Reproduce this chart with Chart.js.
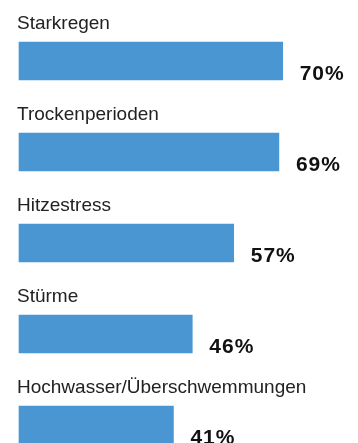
<!DOCTYPE html>
<html lang="de">
<head>
<meta charset="utf-8">
<script src="https://cdn.jsdelivr.net/npm/chart.js@4.4.1/dist/chart.umd.min.js"></script>
<style>
  html, body { margin: 0; padding: 0; background: #fff; }
  #wrap { width: 358px; height: 443px; position: relative; }
</style>
</head>
<body>
<div id="wrap"><canvas id="risks"></canvas></div>
<script>
const categories = ['Starkregen', 'Trockenperioden', 'Hitzestress', 'Stürme', 'Hochwasser/Überschwemmungen']
const shares = [70, 69, 57, 46, 41]
const barColor = '#4a96d2'

// category name above each bar, share in bold to the right of it
const barLabels = {
  id: 'barLabels',
  afterDatasetsDraw(chart) {
    const ctx = chart.ctx
    const meta = chart.getDatasetMeta(0)
    const left = chart.chartArea.left
    ctx.save()
    ctx.textAlign = 'left'
    ctx.textBaseline = 'alphabetic'
    meta.data.forEach((bar, i) => {
      ctx.font = '19px "Liberation Sans", Arial, sans-serif'
      ctx.fillStyle = '#222'
      ctx.letterSpacing = '0px'
      ctx.fillText(categories[i], left - 2, bar.y - 32)

      ctx.font = 'bold 21px "Liberation Sans", Arial, sans-serif'
      ctx.fillStyle = '#111'
      ctx.letterSpacing = '1px'
      ctx.fillText(shares[i] + '%', bar.x + 17, bar.y + bar.height / 2)
    })
    ctx.restore()
  }
}

new Chart(document.getElementById('risks').getContext('2d'), {
  type: 'bar',
  data: {
    labels: categories,
    datasets: [{
      data: shares,
      backgroundColor: barColor,
      borderWidth: 0,
      barThickness: 38,
      clip: false
    }]
  },
  options: {
    indexAxis: 'y',
    responsive: true,
    maintainAspectRatio: false,
    animation: false,
    layout: { padding: { left: 19, right: 0, top: 61, bottom: 18 } },
    plugins: {
      legend: { display: false },
      tooltip: { enabled: false }
    },
    scales: {
      x: {
        display: false,
        min: 0,
        max: 90
      },
      y: {
        display: false,
        offset: false
      }
    }
  },
  plugins: [barLabels]
})
</script>
</body>
</html>
